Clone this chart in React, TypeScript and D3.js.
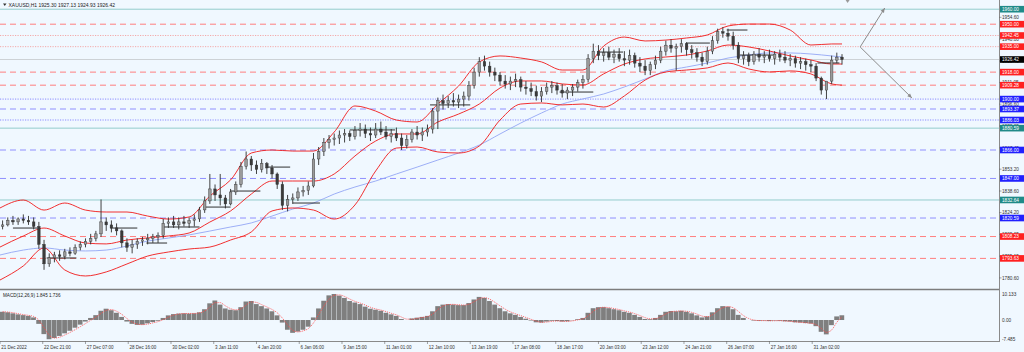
import React from "react";
import * as d3 from "d3";

// ---------- data (H1 bars aggregated by 4) ----------
const firstOpen = 1815;
const candleHigh = [
  1819,1821,1822,1821,1823,1822,1821,1818,1806,1797,
  1798,1799,1800,1801,1803,1805,1807,1810,1812,1833,
  1821,1819,1817,1813,1807,1806,1807,1808,1810,1810,
  1811,1820,1821,1822,1821,1822,1821,1823,1828,1835,
  1850,1843,1850,1836,1840,1845,1858,1865,1862,1859,
  1860,1858,1856,1851,1845,1836,1837,1841,1842,1845,
  1864,1868,1874,1876,1877,1879,1880,1879,1882,1884,
  1883,1881,1884,1885,1882,1880,1881,1877,1876,1880,
  1882,1881,1883,1894,1901,1903,1902,1904,1903,1905,
  1912,1921,1928,1929,1925,1921,1918,1916,1915,1917,
  1915,1912,1911,1909,1908,1911,1912,1911,1910,1908,
  1910,1913,1916,1930,1937,1936,1934,1935,1933,1934,
  1932,1933,1931,1928,1926,1925,1929,1935,1939,1940,
  1937,1940,1938,1936,1934,1931,1935,1942,1947,1948,
  1947,1945,1938,1932,1931,1932,1934,1932,1933,1932,
  1933,1932,1930,1929,1928,1927,1926,1924,1915,1910,
  1929,1931,1930,
];
const candleLow = [
  1813,1815,1816,1816,1817,1816,1813,1800,1786,1788,
  1791,1792,1793,1795,1796,1799,1801,1803,1805,1808,
  1812,1811,1809,1801,1798,1797,1800,1802,1803,1804,
  1804,1807,1814,1814,1813,1815,1814,1815,1818,1824,
  1830,1832,1829,1827,1829,1836,1841,1853,1852,1850,
  1851,1850,1847,1840,1826,1825,1830,1832,1835,1836,
  1841,1856,1862,1867,1869,1870,1871,1872,1873,1875,
  1874,1872,1874,1876,1873,1871,1872,1866,1867,1871,
  1873,1872,1875,1877,1880,1893,1894,1895,1894,1895,
  1899,1907,1915,1919,1915,1912,1909,1907,1906,1908,
  1905,1903,1902,1899,1898,1903,1904,1903,1901,1900,
  1902,1905,1907,1911,1924,1926,1925,1926,1924,1925,
  1922,1923,1921,1918,1916,1916,1920,1924,1929,1931,
  1919,1931,1929,1927,1925,1922,1923,1930,1937,1941,
  1939,1933,1924,1923,1922,1923,1925,1924,1925,1923,
  1925,1924,1922,1921,1920,1919,1918,1912,1903,1900,
  1910,1924,1923,
];
const candleClose = [
  1816,1819,1818,1820,1819,1818,1815,1803,1790,1794,
  1796,1795,1798,1797,1801,1803,1805,1807,1810,1818,
  1816,1814,1812,1804,1801,1803,1805,1806,1807,1808,
  1809,1817,1818,1816,1818,1817,1819,1820,1826,1832,
  1840,1836,1834,1830,1838,1843,1855,1860,1856,1853,
  1857,1854,1850,1843,1829,1833,1834,1838,1839,1842,
  1860,1865,1871,1873,1874,1876,1877,1875,1879,1880,
  1877,1876,1880,1878,1875,1877,1874,1869,1873,1878,
  1876,1878,1880,1892,1899,1897,1899,1898,1900,1902,
  1909,1918,1925,1922,1918,1916,1912,1910,1912,1913,
  1908,1907,1905,1902,1905,1908,1909,1906,1904,1906,
  1908,1911,1913,1927,1932,1929,1931,1928,1930,1927,
  1926,1929,1924,1922,1919,1923,1926,1932,1936,1934,
  1935,1937,1933,1931,1928,1925,1932,1939,1945,1944,
  1942,1936,1927,1929,1925,1930,1928,1929,1927,1930,
  1928,1926,1927,1924,1925,1923,1922,1914,1906,1912,
  1926,1928,1926.42,
];

const macdHist = [
  3.2,3.0,2.6,2.2,1.9,1.6,1.0,-1.5,-5.5,-7.485,
  -7.0,-6.2,-5.2,-4.2,-3.0,-1.8,-0.6,0.8,1.9,3.6,
  4.4,3.8,2.8,1.2,-0.6,-1.5,-1.9,-1.8,-1.3,-0.8,
  -0.3,0.8,1.8,2.3,2.5,2.6,2.5,2.6,3.0,4.2,
  6.5,7.6,6.0,4.5,4.0,3.8,5.0,7.2,7.4,6.2,
  5.4,4.5,3.4,1.8,-1.0,-3.8,-5.0,-4.5,-3.8,-2.6,
  1.0,4.5,7.5,9.6,10.133,9.5,8.6,7.4,6.8,6.2,
  5.2,4.4,4.0,3.6,2.8,2.2,1.6,0.4,0.0,0.6,
  0.9,1.2,1.6,3.4,5.4,6.0,6.2,6.0,5.8,5.8,
  6.6,8.0,9.0,8.6,7.4,6.0,4.6,3.4,2.6,2.0,
  1.2,0.5,-0.2,-0.9,-1.0,-0.6,-0.3,-0.4,-0.6,-0.5,
  -0.1,0.3,0.8,2.8,4.6,5.0,5.0,4.6,4.2,3.8,
  3.2,2.8,2.0,1.2,0.4,0.3,0.8,2.0,3.2,3.5,
  3.4,3.6,3.2,2.6,1.8,1.0,1.4,3.0,4.6,5.4,
  5.2,4.2,2.0,0.8,0.0,-0.2,-0.3,-0.2,-0.4,-0.2,
  -0.3,-0.5,-0.6,-0.9,-1.0,-1.2,-1.4,-2.4,-4.6,-5.6,
  -2.0,1.4,1.845,
];

// Bollinger bands / slow MA, read every 4th candle (plus the last)
const bandUpper = [
  1827.3,1832.6,1825.9,1830.6,1825.9,1824.6,1824.6,1821.9,1819.9,1821.3,
  1835.3,1846.0,1864.0,1866.0,1865.3,1865.3,1878.0,1895.4,1892.0,1886.0,
  1884.7,1896.7,1908.7,1924.8,1928.8,1927.4,1924.8,1919.4,1919.4,1935.4,
  1941.4,1938.8,1939.4,1940.8,1942.8,1948.8,1950.1,1950.1,1946.1,1936.1,
  1936.8,1936.8,
];
const bandMiddle = [
  1801.2,1808.6,1813.9,1808.6,1803.9,1803.3,1805.9,1807.3,1808.6,1810.6,
  1817.9,1825.3,1836.6,1845.3,1845.3,1845.3,1850.0,1862.0,1872.0,1876.7,
  1876.7,1884.7,1890.0,1896.7,1907.4,1912.1,1912.1,1910.1,1909.4,1916.8,
  1923.4,1926.8,1928.1,1929.4,1932.1,1936.1,1934.8,1932.1,1928.8,1926.1,
  1923.4,1923.4,
];
const bandLower = [
  1779.2,1788.6,1800.6,1785.9,1781.9,1784.6,1789.9,1795.2,1797.9,1799.9,
  1801.2,1805.9,1811.3,1825.3,1827.3,1825.9,1819.9,1829.3,1852.0,1867.3,
  1868.0,1864.7,1864.0,1868.7,1886.0,1896.7,1897.4,1896.1,1896.7,1894.7,
  1902.1,1912.7,1918.1,1919.4,1920.8,1924.1,1920.1,1918.1,1918.8,1916.8,
  1910.1,1909.3,
];
const maSlow = [
  1795.9,1799.2,1800.6,1799.2,1798.6,1799.2,1801.9,1805.2,1807.2,1809.3,
  1811.9,1814.6,1817.3,1821.9,1826.6,1830.6,1836.6,1841.3,1845.3,1850.0,
  1854.6,1859.3,1864.0,1869.3,1876.7,1884.0,1890.7,1896.7,1900.1,1903.4,
  1908.1,1913.4,1918.8,1921.4,1924.1,1927.4,1929.4,1930.8,1930.8,1930.1,
  1928.8,1928.1,
];

// short black daily high/low segments (bar index start, end, price)
const segStartBar = [10,36,85,113,126,157,178,206,226,270,332,432,463,530,561,571,631];
const segEndBar   = [29,59,106,129,154,178,201,224,247,305,363,458,481,548,577,597,648];
const segPrice    = [1813.9,1793.9,1813.9,1803.9,1814.6,1827.9,1838.6,1854.6,1830.6,1879.4,1896.1,1904.7,1931.4,1937.4,1946.1,1929.4,1924.1];

// projection arrows
const arrowStart = { bar: 664, price: 1934.8 };
const arrowEndBars = [683, 704];
const arrowEndPrices = [1960.8, 1900.7];

const timeLabels = [
  "21 Dec 2022","22 Dec 21:00","27 Dec 07:00","28 Dec 16:00","30 Dec 02:00",
  "3 Jan 11:00","4 Jan 20:00","6 Jan 06:00","9 Jan 15:00","11 Jan 01:00",
  "12 Jan 10:00","13 Jan 19:00","17 Jan 08:00","18 Jan 17:00","20 Jan 03:00",
  "23 Jan 12:00","24 Jan 21:00","26 Jan 07:00","27 Jan 16:00","31 Jan 02:00",
];
const priceTickLabels = [
  "1954.60","1940.00","1925.40","1911.05","1896.60","1882.05","1867.45",
  "1853.20","1838.60","1824.20","1809.65","1795.15","1780.60",
];

const levelPrices = [1960.00,1950.00,1942.45,1935.00,1918.00,1909.28,1900.00,1893.37,1886.03,1880.59,1866.00,1847.00,1832.64,1820.59,1808.23,1793.63];
const levelKinds = ["teal","red","pink","pink","red","red","blueDot","blue","blueDot","teal","blue","blue","teal","blue","red","red"];
const lastPrice = 1926.42;
const headerText = "XAUUSD,H1  1925.30 1927.13 1924.93 1926.42";
const macdTitle = "MACD(12,26,9) 1.845 1.736";
const macdAxisLabels = [10.133, 0, -7.485];
const macdAxisText = ["10.133", "0.00", "-7.485"];

const STYLE: Record<string, { line: string; dash: string; box: string }> = {
  teal: { line: "#93cccc", dash: "", box: "#1f8a88" },
  red: { line: "#ff7f7f", dash: "6,4", box: "#ff2020" },
  pink: { line: "#f3a9a9", dash: "1.2,1.3", box: "#ff2020" },
  blue: { line: "#9090ff", dash: "6,4", box: "#2020ff" },
  blueDot: { line: "#8a8aff", dash: "1.2,1.3", box: "#2020ff" },
};

const FONT = "'Liberation Sans', Arial, sans-serif";
const BG = "#f0f8ff";

export default function App() {
  const W = 1024, H = 352;
  const plotRight = 999;
  const mainBottom = 289;
  const x = d3.scaleLinear().domain([0, 652]).range([0, 844.6]);
  const y = d3.scaleLinear().domain([1773.2, 1966.15]).range([mainBottom, 0]);
  const ym = d3.scaleLinear().domain([-8.18, 11.69]).range([341, 290]);
  const cx = (k: number) => x(4 * k + 2);
  const bw = x(4) - x(0);

  const sampleK = d3.range(0, 161, 4).concat([162]);
  const sampleBar = sampleK.map((k) => (k === 0 ? 0 : 4 * k + 2));
  const bandPath = (arr: number[]) =>
    d3.line<number>().x((_, i) => x(sampleBar[i])).y((d) => y(d)).curve(d3.curveMonotoneX)(arr) || "";

  const opens = candleClose.map((_, k) => (k === 0 ? firstOpen : candleClose[k - 1]));

  const signal = macdHist.map((v, k) => {
    const a = k > 0 ? macdHist[k - 1] : v;
    const b = k > 1 ? macdHist[k - 2] : a;
    return (v + a + 0.25 * b) / 2.25;
  });
  const sigPath = d3.line<number>().x((_, k) => cx(k)).y((d) => ym(d)).curve(d3.curveMonotoneX)(signal) || "";

  const arrowHead = (x1: number, y1: number, x2: number, y2: number) => {
    const ang = Math.atan2(y2 - y1, x2 - x1);
    const L = 5, A = 0.4;
    const p1 = [x2 - L * Math.cos(ang - A), y2 - L * Math.sin(ang - A)];
    const p2 = [x2 - L * Math.cos(ang + A), y2 - L * Math.sin(ang + A)];
    return `M${x2},${y2}L${p1[0]},${p1[1]}L${p2[0]},${p2[1]}Z`;
  };

  return (
    <svg width={W} height={H} style={{ position: "absolute", left: 0, top: 0, display: "block" }} fontFamily={FONT}>
      <defs>
        <clipPath id="mainClip"><rect x={0} y={0} width={plotRight} height={mainBottom} /></clipPath>
        <clipPath id="macdClip"><rect x={0} y={291} width={plotRight} height={50} /></clipPath>
      </defs>
      <rect x={0} y={0} width={W} height={H} fill={BG} />

      <g clipPath="url(#mainClip)">
        {/* horizontal levels */}
        {levelPrices.map((p, i) => (
          <line key={"lv" + i} x1={0} x2={plotRight} y1={y(p)} y2={y(p)}
            stroke={STYLE[levelKinds[i]].line} strokeWidth={1}
            strokeDasharray={STYLE[levelKinds[i]].dash || undefined} />
        ))}
        <line x1={0} x2={plotRight} y1={y(lastPrice)} y2={y(lastPrice)} stroke="#c4c8cc" strokeWidth={0.8} />

        {/* slow MA */}
        <path d={bandPath(maSlow)} fill="none" stroke="#93a6f5" strokeWidth={0.9} />
        {/* Bollinger */}
        <path d={bandPath(bandUpper)} fill="none" stroke="#f01818" strokeWidth={0.9} />
        <path d={bandPath(bandMiddle)} fill="none" stroke="#f01818" strokeWidth={0.9} />
        <path d={bandPath(bandLower)} fill="none" stroke="#f01818" strokeWidth={0.9} />

        {/* segments */}
        {segPrice.map((p, i) => (
          <line key={"sg" + i} x1={x(segStartBar[i])} x2={x(segEndBar[i])} y1={y(p)} y2={y(p)} stroke="#1a1a1a" strokeWidth={0.9} />
        ))}

        {/* candles */}
        {candleClose.map((c, k) => {
          const o = opens[k];
          const hi = Math.max(candleHigh[k], o, c);
          const lo = Math.min(candleLow[k], o, c);
          const up = c >= o;
          const top = y(Math.max(o, c));
          const h = Math.max(0.8, Math.abs(y(o) - y(c)));
          return (
            <g key={"c" + k}>
              <line x1={cx(k)} x2={cx(k)} y1={y(hi)} y2={y(lo)} stroke="#2e2e2e" strokeWidth={0.9} />
              <rect x={cx(k) - 1.3} y={top} width={2.6} height={h}
                fill={up ? "#9a9a9a" : "#3a3a3a"} stroke="#2e2e2e" strokeWidth={0.4} />
            </g>
          );
        })}

        {/* arrows */}
        {arrowEndBars.map((b, i) => {
          const x1 = x(arrowStart.bar), y1 = y(arrowStart.price);
          const x2 = x(b), y2 = y(arrowEndPrices[i]);
          return (
            <g key={"ar" + i}>
              <line x1={x1} y1={y1} x2={x2} y2={y2} stroke="#8c8c8c" strokeWidth={1} />
              <path d={arrowHead(x1, y1, x2, y2)} fill="#8c8c8c" />
            </g>
          );
        })}
        <path d={`M${x(652) + 1},0L${x(652) + 5},0L${x(652) + 3},3Z`} fill="#999" />
      </g>

      {/* header */}
      <path d="M3,3.5L6.5,3.5L4.75,6Z" fill="#333" />
      <text x={8.5} y={6.6} fontSize={5} fill="#222">{headerText}</text>

      {/* frame lines */}
      <line x1={plotRight + 0.5} x2={plotRight + 0.5} y1={0} y2={341} stroke="#8a8a8a" strokeWidth={1} />
      <line x1={0} x2={plotRight} y1={mainBottom + 0.5} y2={mainBottom + 0.5} stroke="#7d7d7d" strokeWidth={1.6} />
      <line x1={0} x2={plotRight + 1} y1={341.5} y2={341.5} stroke="#8a8a8a" strokeWidth={1} />

      {/* price axis */}
      {priceTickLabels.map((t, i) => (
        <g key={"pt" + i}>
          <line x1={plotRight} x2={plotRight + 2.5} y1={y(+t)} y2={y(+t)} stroke="#666" strokeWidth={0.6} />
          <text x={plotRight + 3} y={y(+t) + 1.7} fontSize={4.7} fill="#333">{t}</text>
        </g>
      ))}
      {levelPrices.map((p, i) => (
        <g key={"bx" + i}>
          <rect x={plotRight + 1} y={y(p) - 3.3} width={24} height={6.6} fill={STYLE[levelKinds[i]].box} />
          <text x={plotRight + 3} y={y(p) + 1.7} fontSize={4.7} fill="#fff">{p.toFixed(2)}</text>
        </g>
      ))}
      <rect x={plotRight + 1} y={y(lastPrice) - 3.3} width={24} height={6.6} fill="#000" />
      <text x={plotRight + 3} y={y(lastPrice) + 1.7} fontSize={4.7} fill="#fff">{lastPrice.toFixed(2)}</text>

      {/* MACD panel */}
      <g clipPath="url(#macdClip)">
        {macdHist.map((v, k) => (
          <rect key={"m" + k} x={x(4 * k)} width={bw - 0.4}
            y={Math.min(ym(0), ym(v))} height={Math.abs(ym(v) - ym(0))} fill="#7f7f7f" />
        ))}
        <path d={sigPath} fill="none" stroke="#ff4a4a" strokeWidth={0.8} strokeDasharray="1.2,1" />
      </g>
      <text x={3} y={297} fontSize={4.6} fill="#222">{macdTitle}</text>
      {macdAxisLabels.map((v, i) => (
        <text key={"ma" + i} x={plotRight + 3} y={ym(v) + 1.7} fontSize={4.7} fill="#333">{macdAxisText[i]}</text>
      ))}

      {/* time axis */}
      {timeLabels.map((t, i) => (
        <g key={"tl" + i}>
          <line x1={x(33 * i)} x2={x(33 * i)} y1={341} y2={344} stroke="#666" strokeWidth={0.6} />
          <text x={x(33 * i) + 1.2} y={348.6} fontSize={4.5} fill="#333">{t}</text>
        </g>
      ))}
    </svg>
  );
}
